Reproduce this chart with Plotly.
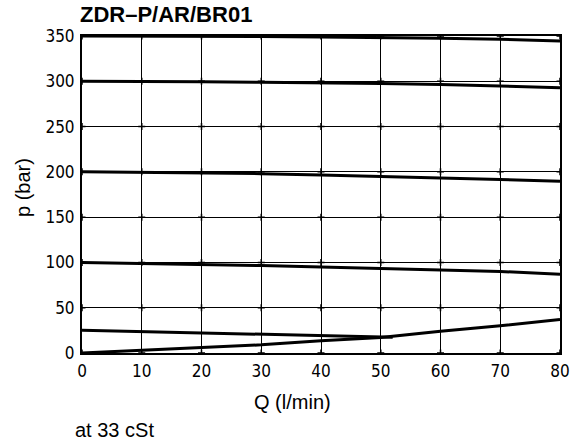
import plotly.graph_objects as go

Q = [0, 10, 20, 30, 40, 50, 60, 70, 80]
p350 = [350, 350, 350, 349.5, 349, 348.5, 347.5, 346.5, 344.5]
p300 = [300, 300, 299.5, 299, 298.5, 297.5, 296.5, 295, 293]
p200 = [200, 199.5, 199, 198, 196.5, 195, 193.5, 191.5, 189.5]
p100 = [100, 99, 98, 96.5, 95, 93.5, 92, 90, 87]
Q_low = [0, 10, 20, 30, 40, 50, 52]
p_low = [25, 23.5, 22, 20.6, 18.8, 17.3, 17.5]
p_rise = [0, 3, 6, 9, 13.5, 17, 24, 30, 37]

x_ticks = [0, 10, 20, 30, 40, 50, 60, 70, 80]
y_ticks = [0, 50, 100, 150, 200, 250, 300, 350]

W, H = 586, 444
L, R, T, B = 82, 26, 36, 91
PW, PH = W - L - R, H - T - B

fig = go.Figure()
line = dict(color="black", width=3)
for y in [p350, p300, p200, p100, p_rise]:
    fig.add_trace(go.Scatter(x=Q, y=y, mode="lines", line=line, showlegend=False))
fig.add_trace(go.Scatter(x=Q_low, y=p_low, mode="lines", line=line, showlegend=False))

# intersection markers
gx = [x for x in x_ticks for _ in y_ticks]
gy = [y for _ in x_ticks for y in y_ticks]
fig.add_trace(go.Scatter(x=gx, y=gy, mode="markers",
                         marker=dict(symbol="cross-thin", size=5, line=dict(color="black", width=1.5)),
                         showlegend=False, hoverinfo="skip"))

tickfont = dict(family="DejaVu Sans Condensed", size=17, color="black")
titlefont = dict(family="Liberation Sans", size=20, color="black")
fig.update_xaxes(range=[0, 80], tickvals=x_ticks, showgrid=True, gridcolor="black", gridwidth=1.2,
                 showline=True, linecolor="black", linewidth=2, mirror=True, zeroline=False,
                 ticks="", tickfont=tickfont, ticklabelstandoff=2)
fig.update_yaxes(range=[0, 350], tickvals=y_ticks, showgrid=True, gridcolor="black", gridwidth=1.2,
                 showline=True, linecolor="black", linewidth=2, mirror=True, zeroline=False,
                 ticks="", tickfont=tickfont, ticklabelstandoff=2)

fig.update_layout(
    width=W, height=H,
    margin=dict(l=L, r=R, t=T, b=B),
    plot_bgcolor="white", paper_bgcolor="white",
    title=dict(text="<b>ZDR–P/AR/BR01</b>", x=80 / W, xanchor="left", y=1 - 14 / H, yanchor="middle",
               font=dict(family="Liberation Sans", size=22, color="black")),
    annotations=[
        dict(text="Q (l/min)", xref="paper", yref="paper", x=(292 - L) / PW, y=-(402 - T - PH) / PH,
             xanchor="center", yanchor="middle", showarrow=False, font=titlefont),
        dict(text="p (bar)", xref="paper", yref="paper", x=(23 - L) / PW, y=(H - B - 188) / PH,
             xanchor="center", yanchor="middle", showarrow=False, textangle=-90, font=titlefont),
        dict(text="at 33 cSt", xref="paper", yref="paper", x=(73 - L) / PW, y=-(430 - T - PH) / PH,
             xanchor="left", yanchor="middle", showarrow=False, font=titlefont),
    ],
)

fig.write_html("out.html", config={"displayModeBar": False},
               post_script="document.body.style.margin='0';")
